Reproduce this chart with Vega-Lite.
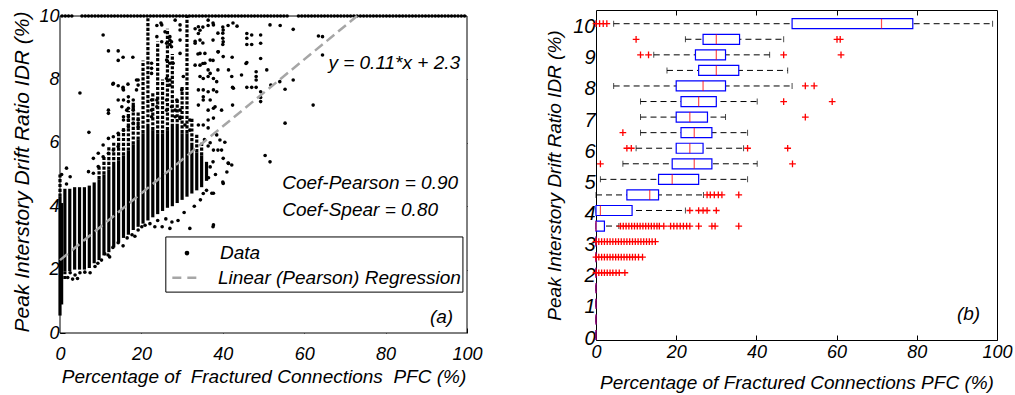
{
  "$schema": "https://vega.github.io/schema/vega-lite/v6.json",
  "background": "white",
  "padding": {"left": 11, "top": 7, "right": 5, "bottom": 5},
  "spacing": 129,
  "bounds": "flush",
  "config": {
    "font": "Liberation Sans",
    "view": {"stroke": "black", "strokeWidth": 1},
    "axis": {"grid": false, "domain": false, "labelFont": "Liberation Sans", "labelFontStyle": "italic", "labelColor": "black", "titleFont": "Liberation Sans", "titleFontStyle": "italic", "titleFontWeight": "normal", "titleColor": "black", "tickColor": "black", "labelOverlap": false, "labelFlush": false},
    "text": {"font": "Liberation Sans", "fontStyle": "italic", "color": "black"}
  },
  "datasets": {
    "cols": [
      {"x":0,"lo":0.55,"hi":4.3},{"x":0.4,"lo":0.9,"hi":4.1},{"x":1.2,"lo":1.95,"hi":4.55},{"x":2.4,"lo":1.95,"hi":4.55},{"x":3.6,"lo":2.0,"hi":4.6},{"x":4.8,"lo":2.0,"hi":4.6},{"x":6.0,"lo":2.0,"hi":4.6},{"x":7.2,"lo":2.05,"hi":4.65},{"x":8.4,"lo":2.2,"hi":4.75},{"x":9.6,"lo":2.3,"hi":4.85},{"x":10.8,"lo":2.45,"hi":5.0},{"x":12.0,"lo":2.55,"hi":5.15},{"x":13.2,"lo":2.7,"hi":5.3},{"x":14.4,"lo":2.85,"hi":5.45},{"x":15.6,"lo":3.0,"hi":5.6},{"x":16.8,"lo":3.1,"hi":5.75},{"x":18.0,"lo":3.25,"hi":5.95},{"x":19.2,"lo":3.35,"hi":6.1},{"x":20.4,"lo":3.45,"hi":6.3},{"x":21.6,"lo":3.55,"hi":6.5},{"x":22.8,"lo":3.65,"hi":6.4},{"x":24.0,"lo":3.75,"hi":6.3},{"x":25.2,"lo":3.85,"hi":6.3},{"x":26.4,"lo":3.95,"hi":6.4},{"x":27.6,"lo":4.0,"hi":6.5},{"x":28.8,"lo":4.1,"hi":6.5},{"x":30.0,"lo":4.2,"hi":6.3},{"x":31.2,"lo":4.3,"hi":6.3},{"x":32.4,"lo":4.4,"hi":5.9},{"x":33.6,"lo":4.5,"hi":5.7},{"x":34.8,"lo":4.6,"hi":5.6},{"x":36.0,"lo":4.8,"hi":5.4}
    ],
    "dots": [
      {"x":0,"lo":4.3,"hi":5.0},{"x":1.2,"lo":1.7,"hi":1.95},{"x":9.6,"lo":4.85,"hi":5.3},{"x":10.8,"lo":5.0,"hi":5.6},{"x":12.0,"lo":5.15,"hi":5.9},{"x":13.2,"lo":5.3,"hi":6.0},{"x":14.4,"lo":5.45,"hi":6.3},{"x":15.6,"lo":5.6,"hi":6.5},{"x":16.8,"lo":5.75,"hi":7.0},{"x":18.0,"lo":5.95,"hi":7.3},{"x":19.2,"lo":6.1,"hi":7.0},{"x":20.4,"lo":6.3,"hi":8.6},{"x":21.6,"lo":6.5,"hi":10},{"x":22.8,"lo":6.4,"hi":7.6},{"x":24.0,"lo":6.3,"hi":9.2},{"x":25.2,"lo":6.3,"hi":8.0},{"x":26.4,"lo":6.4,"hi":9.6},{"x":27.6,"lo":6.5,"hi":8.8},{"x":28.8,"lo":6.5,"hi":7.4},{"x":30.0,"lo":6.3,"hi":7.8},{"x":31.2,"lo":6.3,"hi":10},{"x":32.4,"lo":5.9,"hi":6.8},{"x":33.6,"lo":5.7,"hi":6.3},{"x":34.8,"lo":5.6,"hi":6.0}
    ],
    "pts": [
      {"x":1.6,"y":5.2},{"x":2.5,"y":4.93},{"x":1.6,"y":4.7},{"x":0.4,"y":5.0},{"x":4.9,"y":7.57},{"x":7.1,"y":6.33},{"x":7,"y":5.09},{"x":8.2,"y":5.04},{"x":8.2,"y":5.51},{"x":9.4,"y":5.67},{"x":9.4,"y":5.25},{"x":10.6,"y":5.56},{"x":10.6,"y":5.93},{"x":11.9,"y":5.67},{"x":11.9,"y":6.14},{"x":11.9,"y":6.93},{"x":13.1,"y":5.77},{"x":13.1,"y":6.19},{"x":14.3,"y":5.88},{"x":14.3,"y":6.3},{"x":15.6,"y":6.4},{"x":15.6,"y":6.72},{"x":16.8,"y":6.51},{"x":16.8,"y":6.82},{"x":18,"y":7.03},
      {"x":10.6,"y":9.4},{"x":11.9,"y":8.9},{"x":14.3,"y":8.9},{"x":14.3,"y":8.6},{"x":15.5,"y":8.7},{"x":17.9,"y":8.7},{"x":13,"y":7.85},{"x":14.3,"y":7.8},{"x":15.5,"y":7.75},{"x":15.5,"y":7.7},{"x":16.7,"y":7.85},{"x":19.2,"y":7.98},{"x":19.2,"y":7.82},{"x":13.1,"y":7.88},{"x":18.8,"y":7.98},{"x":11.9,"y":7.03},{"x":14.3,"y":7.35},{"x":16.8,"y":7.09},{"x":16.8,"y":7.45},{"x":15.6,"y":7.35},{"x":16.8,"y":7.3},{"x":18,"y":7.35},{"x":15.2,"y":7.14},{"x":16.4,"y":7.03},{"x":18,"y":7.14},{"x":15.6,"y":6.82},{"x":16.8,"y":6.72},{"x":18,"y":6.62},{"x":19.2,"y":6.72},{"x":19.2,"y":6.51},{"x":18.8,"y":7.67},{"x":15.6,"y":7.67},
      {"x":22.5,"y":8.51},{"x":22.5,"y":8.35},{"x":22.5,"y":8.19},{"x":23.8,"y":9.35},{"x":25,"y":9.72},{"x":22.5,"y":7.35},{"x":22.5,"y":7.03},{"x":22.5,"y":6.82},{"x":23.8,"y":7.35},{"x":23.8,"y":7.14},{"x":23.8,"y":9.7},{"x":24.8,"y":9.78},{"x":25.8,"y":9.5},{"x":27,"y":9.35},{"x":27,"y":9.24},{"x":27,"y":9.1},{"x":25,"y":9.19},{"x":26.2,"y":9.14},{"x":27.4,"y":9.19},{"x":27.4,"y":9.03},{"x":26.2,"y":8.61},{"x":27,"y":8.51},{"x":27.8,"y":8.51},{"x":26.2,"y":8.03},{"x":27,"y":7.98},{"x":27,"y":7.82},{"x":26.2,"y":7.35},{"x":27.4,"y":7.14},{"x":26.2,"y":7.03},{"x":28.3,"y":6.82},{"x":29.5,"y":7.03},{"x":29.5,"y":6.77},{"x":29.5,"y":9.72},{"x":29.5,"y":9.56},{"x":29.5,"y":9.24},{"x":29.5,"y":8.82},{"x":28.3,"y":9.87},{"x":30.3,"y":8.09},{"x":29.9,"y":7.67},{"x":28.7,"y":7.35},{"x":28.3,"y":7.03},{"x":29.5,"y":6.81},{"x":30.7,"y":6.56},{"x":31.9,"y":6.72},
      {"x":34,"y":9.66},{"x":34,"y":9.45},{"x":34.4,"y":9.24},{"x":34.4,"y":8.82},{"x":33.2,"y":9.14},{"x":35.6,"y":8.82},{"x":34.4,"y":8.45},{"x":33.2,"y":8.45},{"x":35.6,"y":8.51},{"x":34.4,"y":8.09},{"x":36.9,"y":8.61},{"x":36.4,"y":8.09},{"x":37.7,"y":7.67},{"x":36.4,"y":9.87},{"x":37.7,"y":9.72},{"x":38.9,"y":8.87},{"x":40.1,"y":9.56},{"x":40.1,"y":9.19},{"x":40.1,"y":8.72},{"x":38.5,"y":7.93},{"x":38.5,"y":7.61},{"x":36.9,"y":7.35},{"x":38.1,"y":7.14},{"x":39.7,"y":7.03},{"x":41.4,"y":8.3},{"x":42.2,"y":8.09},{"x":42.6,"y":7.72},{"x":33.2,"y":9.6},{"x":33.2,"y":9.2},{"x":34.4,"y":9.55},{"x":35.1,"y":9.65},{"x":36.4,"y":9.7},{"x":37.6,"y":9.78},{"x":40,"y":9.65},{"x":41.3,"y":9.7},{"x":42.5,"y":9.78},{"x":43.5,"y":9.68},{"x":37.6,"y":9.24},{"x":38.8,"y":9.46},{"x":40,"y":9.46},{"x":40,"y":9.3},{"x":40,"y":9.1},{"x":38.8,"y":8.87},{"x":42.3,"y":8.7},{"x":37.6,"y":8.6},{"x":38.8,"y":8.3},{"x":36.4,"y":8.3},{"x":35.1,"y":8.5},{"x":33.9,"y":8.8},{"x":35.1,"y":9.15},{"x":37.7,"y":8.03},{"x":36.9,"y":8.19},{"x":35.2,"y":8.03},{"x":34,"y":7.67},{"x":35.2,"y":7.67},{"x":35.2,"y":7.45},{"x":36.4,"y":7.61},{"x":37.7,"y":7.09},{"x":36.4,"y":7.03},{"x":34,"y":7.19},{"x":35.2,"y":7.35},{"x":37.7,"y":6.78},{"x":36.4,"y":6.72},{"x":35.2,"y":6.56},{"x":36.4,"y":6.47},{"x":34,"y":6.56},{"x":31.9,"y":6.4},{"x":42.4,"y":7.75},{"x":42.4,"y":7.19},{"x":44.6,"y":8.14},
      {"x":39.3,"y":6.09},{"x":40.5,"y":6.02},{"x":39.7,"y":5.77},{"x":40.1,"y":5.51},{"x":42.2,"y":5.3},{"x":41.4,"y":5.35},{"x":40.1,"y":4.72},{"x":37.7,"y":4.41},{"x":37.7,"y":3.41},{"x":37.7,"y":5.77},{"x":38.5,"y":6.25},{"x":36.9,"y":5.24},{"x":37.6,"y":5.4},{"x":38.8,"y":5.77},{"x":40,"y":4.76},{"x":41.3,"y":5.36},{"x":41,"y":5.08},{"x":37.3,"y":4.41},{"x":36.4,"y":5.9},{"x":36.9,"y":6.0},{"x":35.5,"y":6.1},{"x":38.2,"y":5.0},{"x":36.5,"y":4.9},{"x":35.2,"y":4.4},
      {"x":45.9,"y":9.45},{"x":45.9,"y":9.3},{"x":45.9,"y":9.1},{"x":49.3,"y":9.4},{"x":49.3,"y":9.14},{"x":45.9,"y":8.53},{"x":49.3,"y":8.66},{"x":50.8,"y":8.3},{"x":48.2,"y":8.24},{"x":48.2,"y":8.09},{"x":48.2,"y":7.98},{"x":51.8,"y":7.82},{"x":54,"y":7.93},{"x":55.3,"y":7.69},{"x":45.9,"y":7.75},{"x":47.1,"y":7.75},{"x":48.2,"y":7.75},{"x":49.3,"y":7.61},{"x":49.3,"y":7.43},{"x":49.3,"y":7.3},{"x":55.3,"y":6.62},{"x":57.3,"y":7.98},{"x":62.2,"y":7.19},{"x":63.5,"y":9.37},{"x":64.5,"y":9.35},{"x":64.5,"y":8.77},{"x":57.3,"y":9.58},{"x":51.6,"y":9.72},{"x":54.1,"y":9.7},{"x":47.1,"y":9.4},{"x":47.1,"y":9.1},{"x":45.7,"y":8.5},{"x":50.4,"y":5.6},{"x":51.6,"y":5.4},
      {"x":2.5,"y":1.9},{"x":3.7,"y":1.83},{"x":4.9,"y":1.9},{"x":6.1,"y":1.92},{"x":7.4,"y":1.9},{"x":1.9,"y":1.75},{"x":3.1,"y":1.7},{"x":4.3,"y":1.72},{"x":9.3,"y":2.2},{"x":11,"y":2.5},{"x":11.8,"y":2.46},{"x":13,"y":2.7},{"x":14.3,"y":2.85},{"x":16.5,"y":3.0},{"x":17.7,"y":3.1},{"x":19.2,"y":3.25},{"x":20.1,"y":3.35},{"x":20.9,"y":3.4},{"x":22.1,"y":3.45},{"x":23.3,"y":3.35},{"x":25.1,"y":3.35},{"x":27,"y":3.3},{"x":27.5,"y":3.5},{"x":29,"y":3.55},{"x":31.9,"y":3.3},{"x":37.6,"y":3.35},{"x":8.6,"y":2.1},{"x":10.2,"y":2.3},{"x":12.2,"y":2.4},{"x":15.5,"y":2.75},{"x":18.4,"y":3.05},{"x":24,"y":3.55},{"x":26,"y":3.6},{"x":30.5,"y":3.8},{"x":33,"y":4.0},{"x":34.5,"y":4.2},{"x":36,"y":4.5},
      {"x":0.5,"y":10},{"x":1.3,"y":10},{"x":2.1,"y":10},{"x":2.9,"y":10},{"x":5.4,"y":10},{"x":6.2,"y":10},{"x":7.0,"y":10},{"x":7.8,"y":10},{"x":8.6,"y":10},{"x":9.4,"y":10},{"x":10.2,"y":10},{"x":11.0,"y":10},{"x":11.8,"y":10},{"x":12.6,"y":10},{"x":13.4,"y":10},{"x":14.2,"y":10},{"x":15.0,"y":10},{"x":15.8,"y":10},{"x":16.6,"y":10},{"x":17.4,"y":10},{"x":18.2,"y":10},{"x":19.0,"y":10},{"x":19.8,"y":10},{"x":20.6,"y":10},{"x":21.4,"y":10},{"x":22.2,"y":10},{"x":23.0,"y":10},{"x":23.8,"y":10},{"x":24.6,"y":10},{"x":25.4,"y":10},{"x":26.2,"y":10},{"x":27.0,"y":10},{"x":27.8,"y":10},{"x":28.6,"y":10},{"x":29.4,"y":10},{"x":30.2,"y":10},{"x":31.0,"y":10},{"x":31.8,"y":10},{"x":32.6,"y":10},{"x":33.4,"y":10},{"x":34.2,"y":10},{"x":35.0,"y":10},{"x":35.8,"y":10},{"x":36.6,"y":10},{"x":37.4,"y":10},{"x":38.2,"y":10},{"x":39.0,"y":10},{"x":39.8,"y":10},{"x":40.6,"y":10},{"x":41.4,"y":10},{"x":42.2,"y":10},{"x":43.0,"y":10},{"x":43.8,"y":10},{"x":44.6,"y":10},{"x":45.4,"y":10},{"x":46.2,"y":10},{"x":47.0,"y":10},{"x":47.8,"y":10},{"x":48.6,"y":10},{"x":49.4,"y":10},{"x":50.2,"y":10},{"x":51.0,"y":10},{"x":51.8,"y":10},{"x":52.6,"y":10},{"x":53.4,"y":10},{"x":54.2,"y":10},{"x":55.0,"y":10},{"x":55.8,"y":10},{"x":58.6,"y":10},{"x":59.4,"y":10},{"x":60.2,"y":10},{"x":61.0,"y":10},{"x":61.8,"y":10},{"x":62.6,"y":10},{"x":63.4,"y":10},{"x":64.2,"y":10},{"x":65.0,"y":10},{"x":65.8,"y":10},{"x":66.6,"y":10},{"x":67.4,"y":10},{"x":68.2,"y":10},{"x":69.0,"y":10},{"x":69.8,"y":10},{"x":70.6,"y":10},{"x":71.4,"y":10},{"x":72.2,"y":10},{"x":73.0,"y":10},{"x":73.8,"y":10},{"x":74.6,"y":10},{"x":75.4,"y":10},{"x":76.2,"y":10},{"x":77.0,"y":10},{"x":77.8,"y":10},{"x":78.6,"y":10},{"x":79.4,"y":10},{"x":80.2,"y":10},{"x":81.0,"y":10},{"x":81.8,"y":10},{"x":82.6,"y":10},{"x":83.4,"y":10},{"x":84.2,"y":10},{"x":85.0,"y":10},{"x":85.8,"y":10},{"x":86.6,"y":10},{"x":87.4,"y":10},{"x":88.2,"y":10},{"x":89.0,"y":10},{"x":89.8,"y":10},{"x":90.6,"y":10},{"x":91.4,"y":10},{"x":92.2,"y":10},{"x":93.0,"y":10},{"x":93.8,"y":10},{"x":94.6,"y":10},{"x":95.4,"y":10},{"x":96.2,"y":10},{"x":97.0,"y":10},{"x":97.8,"y":10},{"x":98.6,"y":10},{"x":99.4,"y":10}
    ],
    "reg": [{"x":0,"y":2.3},{"x":73,"y":10}],
    "boxes": [
      {"i":10,"lo":4.4,"q1":48.9,"md":71.2,"q3":79.0,"hi":98.9},
      {"i":9.5,"lo":22.3,"q1":26.7,"md":30.0,"q3":35.8,"hi":46.8},
      {"i":9,"lo":14.4,"q1":24.8,"md":30.0,"q3":32.3,"hi":43.3},
      {"i":8.5,"lo":17.7,"q1":25.6,"md":30.0,"q3":35.6,"hi":47.8},
      {"i":8,"lo":4.4,"q1":20.0,"md":26.7,"q3":32.3,"hi":48.9},
      {"i":7.5,"lo":11.1,"q1":21.2,"md":25.6,"q3":30.0,"hi":40.2},
      {"i":7,"lo":11.1,"q1":20.0,"md":23.4,"q3":27.8,"hi":32.3},
      {"i":6.5,"lo":11.1,"q1":21.2,"md":24.5,"q3":28.9,"hi":37.8},
      {"i":6,"lo":10.0,"q1":20.0,"md":23.4,"q3":26.7,"hi":36.8},
      {"i":5.5,"lo":6.7,"q1":19.0,"md":24.5,"q3":28.9,"hi":40.2},
      {"i":5,"lo":1.1,"q1":15.6,"md":19.0,"q3":25.6,"hi":37.8},
      {"i":4.5,"lo":0,"q1":7.7,"md":13.4,"q3":15.6,"hi":26.8},
      {"i":4,"lo":0,"q1":0,"md":1.1,"q3":9.0,"hi":22.3},
      {"i":3.5,"lo":0,"q1":0,"md":0,"q3":2.1,"hi":5.7},
      {"i":3,"lo":0,"q1":0,"md":0,"q3":0,"hi":0},
      {"i":2.5,"lo":0,"q1":0,"md":0,"q3":0,"hi":0},
      {"i":2,"lo":0,"q1":0,"md":0,"q3":0,"hi":0},
      {"i":1.5,"lo":0,"q1":0,"md":0,"q3":0,"hi":0},
      {"i":1,"lo":0,"q1":0,"md":0,"q3":0,"hi":0},
      {"i":0.5,"lo":0,"q1":0,"md":0,"q3":0,"hi":0},
      {"i":0,"lo":0,"q1":0,"md":0,"q3":0,"hi":0}
    ],
    "outl": [
      {"i":10,"v":0},{"i":10,"v":0.9},{"i":10,"v":1.8},{"i":10,"v":2.7},
      {"i":9.5,"v":10.0},{"i":9.5,"v":60.1},{"i":9.5,"v":60.9},
      {"i":9,"v":11.1},{"i":9,"v":13.1},{"i":9,"v":46.8},{"i":9,"v":61.1},
      {"i":8,"v":52.2},{"i":8,"v":54.4},
      {"i":7.5,"v":46.8},{"i":7.5,"v":58.9},
      {"i":7,"v":52.2},
      {"i":6.5,"v":6.7},
      {"i":6,"v":7.7},{"i":6,"v":8.8},{"i":6,"v":37.8},{"i":6,"v":47.8},
      {"i":5.5,"v":1.1},{"i":5.5,"v":49.0},
      {"i":4.5,"v":27.7},{"i":4.5,"v":28.5},{"i":4.5,"v":29.5},{"i":4.5,"v":30.5},{"i":4.5,"v":31.4},{"i":4.5,"v":35.6},
      {"i":4,"v":23.4},{"i":4,"v":25.6},{"i":4,"v":26.7},{"i":4,"v":27.7},{"i":4,"v":30.0},
      {"i":3.5,"v":6.1},{"i":3.5,"v":6.8},{"i":3.5,"v":7.5},{"i":3.5,"v":8.2},{"i":3.5,"v":8.9},{"i":3.5,"v":9.6},{"i":3.5,"v":10.3},{"i":3.5,"v":11.0},{"i":3.5,"v":11.7},{"i":3.5,"v":12.4},{"i":3.5,"v":13.1},{"i":3.5,"v":13.8},{"i":3.5,"v":14.5},{"i":3.5,"v":15.2},{"i":3.5,"v":15.8},{"i":3.5,"v":16.9},{"i":3.5,"v":18.6},{"i":3.5,"v":19.4},{"i":3.5,"v":20.2},{"i":3.5,"v":21.0},{"i":3.5,"v":21.8},{"i":3.5,"v":22.6},{"i":3.5,"v":23.4},{"i":3.5,"v":25.6},{"i":3.5,"v":28.9},{"i":3.5,"v":29.7},{"i":3.5,"v":35.6},
      {"i":3,"v":0},{"i":3,"v":0.7},{"i":3,"v":1.4},{"i":3,"v":2.1},{"i":3,"v":2.8},{"i":3,"v":3.5},{"i":3,"v":4.2},{"i":3,"v":4.9},{"i":3,"v":5.6},{"i":3,"v":6.3},{"i":3,"v":7.0},{"i":3,"v":7.7},{"i":3,"v":8.4},{"i":3,"v":9.1},{"i":3,"v":9.8},{"i":3,"v":10.5},{"i":3,"v":11.2},{"i":3,"v":11.9},{"i":3,"v":12.6},{"i":3,"v":13.3},{"i":3,"v":14.0},{"i":3,"v":14.8},
      {"i":2.5,"v":0},{"i":2.5,"v":0.7},{"i":2.5,"v":1.4},{"i":2.5,"v":2.1},{"i":2.5,"v":2.8},{"i":2.5,"v":3.5},{"i":2.5,"v":4.2},{"i":2.5,"v":4.9},{"i":2.5,"v":5.6},{"i":2.5,"v":6.3},{"i":2.5,"v":7.0},{"i":2.5,"v":7.7},{"i":2.5,"v":8.4},{"i":2.5,"v":9.1},{"i":2.5,"v":9.8},{"i":2.5,"v":10.6},{"i":2.5,"v":11.6},
      {"i":2,"v":0},{"i":2,"v":0.7},{"i":2,"v":1.4},{"i":2,"v":2.1},{"i":2,"v":2.8},{"i":2,"v":3.5},{"i":2,"v":4.2},{"i":2,"v":5.0},{"i":2,"v":5.8},{"i":2,"v":7.2}
    ]
  },
  "hconcat": [
    {
      "width": 407,
      "height": 323,
      "view": {"stroke": null},
      "resolve": {"axis": {"x": "independent", "y": "independent"}},
      "layer": [
        {
          "data": {"values": [{}]},
          "mark": {"type": "rect", "fill": "white", "stroke": "black", "strokeWidth": 1},
          "encoding": {
            "x": {"datum": 0, "type": "quantitative", "scale": {"domain": [0, 100], "nice": false},
                  "axis": {"orient": "bottom", "values": [0, 20, 40, 60, 80, 100], "tickSize": -5, "labelPadding": 17, "labelFontSize": 18, "title": "Percentage of \u00a0Fractured Connections \u00a0PFC (%)", "titleFontSize": 19, "titlePadding": 4}},
            "x2": {"datum": 100},
            "y": {"datum": 0, "type": "quantitative", "scale": {"domain": [0, 10.19], "nice": false},
                  "axis": {"orient": "left", "values": [0, 2, 4, 6, 8, 10], "tickSize": -5, "labelPadding": 6, "labelFontSize": 18, "title": "Peak Interstory Drift Ratio IDR (%)", "titleFontSize": 21, "titlePadding": 6}},
            "y2": {"datum": 10}
          }
        },
        {
          "data": {"name": "cols"},
          "mark": {"type": "rule", "strokeWidth": 3.2, "color": "black"},
          "encoding": {
            "x": {"field": "x", "type": "quantitative", "scale": {"domain": [0, 100], "nice": false}, "axis": null},
            "y": {"field": "lo", "type": "quantitative", "scale": {"domain": [0, 10.19], "nice": false}, "axis": null},
            "y2": {"field": "hi"}
          }
        },
        {
          "data": {"name": "dots"},
          "mark": {"type": "rule", "strokeWidth": 3.2, "color": "black", "strokeDash": [3.2, 1.6]},
          "encoding": {
            "x": {"field": "x", "type": "quantitative", "scale": {"domain": [0, 100], "nice": false}, "axis": null},
            "y": {"field": "lo", "type": "quantitative", "scale": {"domain": [0, 10.19], "nice": false}, "axis": null},
            "y2": {"field": "hi"}
          }
        },
        {
          "data": {"name": "pts"},
          "mark": {"type": "circle", "size": 13, "color": "black", "opacity": 1},
          "encoding": {
            "x": {"field": "x", "type": "quantitative", "scale": {"domain": [0, 100], "nice": false}, "axis": null},
            "y": {"field": "y", "type": "quantitative", "scale": {"domain": [0, 10.19], "nice": false}, "axis": null}
          }
        },
        {
          "data": {"name": "reg"},
          "mark": {"type": "line", "color": "#a6a6a6", "strokeWidth": 2.5, "strokeDash": [10, 5]},
          "encoding": {
            "x": {"field": "x", "type": "quantitative", "scale": {"domain": [0, 100], "nice": false}, "axis": null},
            "y": {"field": "y", "type": "quantitative", "scale": {"domain": [0, 10.19], "nice": false},
                  "axis": {"orient": "right", "values": [2, 4, 6, 8], "tickSize": -5, "labels": false, "title": null}}
          }
        },
        {
          "data": {"values": [{}]},
          "mark": {"type": "rect", "fill": "white", "stroke": "black", "strokeWidth": 1},
          "encoding": {
            "x": {"datum": 26.0, "type": "quantitative", "scale": {"domain": [0, 100], "nice": false}, "axis": null},
            "x2": {"datum": 99.0},
            "y": {"datum": 3.03, "type": "quantitative", "scale": {"domain": [0, 10.19], "nice": false}, "axis": null},
            "y2": {"datum": 1.29}
          }
        },
        {
          "data": {"values": [{}]},
          "mark": {"type": "circle", "size": 22, "color": "black", "opacity": 1},
          "encoding": {
            "x": {"datum": 31.2, "type": "quantitative", "scale": {"domain": [0, 100], "nice": false}, "axis": null},
            "y": {"datum": 2.52, "type": "quantitative", "scale": {"domain": [0, 10.19], "nice": false}, "axis": null}
          }
        },
        {
          "data": {"values": [{}]},
          "mark": {"type": "rule", "color": "#a6a6a6", "strokeWidth": 2.5, "strokeDash": [9, 6]},
          "encoding": {
            "x": {"datum": 27.6, "type": "quantitative", "scale": {"domain": [0, 100], "nice": false}, "axis": null},
            "x2": {"datum": 34.5},
            "y": {"datum": 1.74, "type": "quantitative", "scale": {"domain": [0, 10.19], "nice": false}, "axis": null}
          }
        },
        {
          "data": {"values": [{}]},
          "mark": {"type": "text", "text": "Data", "align": "left", "baseline": "middle", "fontSize": 19},
          "encoding": {
            "x": {"datum": 39.3, "type": "quantitative", "scale": {"domain": [0, 100], "nice": false}, "axis": null},
            "y": {"datum": 2.52, "type": "quantitative", "scale": {"domain": [0, 10.19], "nice": false}, "axis": null}
          }
        },
        {
          "data": {"values": [{}]},
          "mark": {"type": "text", "text": "Linear (Pearson) Regression", "align": "left", "baseline": "middle", "fontSize": 19},
          "encoding": {
            "x": {"datum": 38.8, "type": "quantitative", "scale": {"domain": [0, 100], "nice": false}, "axis": null},
            "y": {"datum": 1.74, "type": "quantitative", "scale": {"domain": [0, 10.19], "nice": false}, "axis": null}
          }
        },
        {
          "data": {"values": [{}]},
          "mark": {"type": "text", "text": "y = 0.11*x + 2.3", "align": "right", "baseline": "middle", "fontSize": 19},
          "encoding": {
            "x": {"datum": 98.3, "type": "quantitative", "scale": {"domain": [0, 100], "nice": false}, "axis": null},
            "y": {"datum": 8.52, "type": "quantitative", "scale": {"domain": [0, 10.19], "nice": false}, "axis": null}
          }
        },
        {
          "data": {"values": [{}]},
          "mark": {"type": "text", "text": "Coef-Pearson = 0.90", "align": "left", "baseline": "middle", "fontSize": 19},
          "encoding": {
            "x": {"datum": 54.6, "type": "quantitative", "scale": {"domain": [0, 100], "nice": false}, "axis": null},
            "y": {"datum": 4.73, "type": "quantitative", "scale": {"domain": [0, 10.19], "nice": false}, "axis": null}
          }
        },
        {
          "data": {"values": [{}]},
          "mark": {"type": "text", "text": "Coef-Spear = 0.80", "align": "left", "baseline": "middle", "fontSize": 19},
          "encoding": {
            "x": {"datum": 54.6, "type": "quantitative", "scale": {"domain": [0, 100], "nice": false}, "axis": null},
            "y": {"datum": 3.88, "type": "quantitative", "scale": {"domain": [0, 10.19], "nice": false}, "axis": null}
          }
        },
        {
          "data": {"values": [{}]},
          "mark": {"type": "text", "text": "(a)", "align": "right", "baseline": "middle", "fontSize": 19},
          "encoding": {
            "x": {"datum": 96.6, "type": "quantitative", "scale": {"domain": [0, 100], "nice": false}, "axis": null},
            "y": {"datum": 0.5, "type": "quantitative", "scale": {"domain": [0, 10.19], "nice": false}, "axis": null}
          }
        }
      ]
    },
    {
      "width": 401,
      "height": 330,
      "resolve": {"axis": {"x": "independent", "y": "independent"}},
      "layer": [
        {
          "data": {"name": "boxes"},
          "mark": {"type": "rule", "color": "black", "strokeWidth": 1, "strokeDash": [6, 4]},
          "encoding": {
            "x": {"field": "lo", "type": "quantitative", "scale": {"domain": [0, 100], "nice": false},
                  "axis": {"orient": "bottom", "values": [0, 20, 40, 60, 80, 100], "tickSize": -5, "labelPadding": 8, "labelFontSize": 18, "title": "Percentage of Fractured Connections PFC (%)", "titleFontSize": 19, "titlePadding": 12}},
            "x2": {"field": "hi"},
            "y": {"field": "i", "type": "quantitative", "scale": {"domain": [0, 10.28], "nice": false},
                  "axis": {"orient": "left", "values": [0, 1, 2, 3, 4, 5, 6, 7, 8, 9, 10], "ticks": false, "labelPadding": 1, "labelOffset": 3, "labelFontSize": 20, "labelOverlap": false, "title": "Peak Interstory Drift Ratio IDR (%)", "titleFontSize": 19, "titlePadding": 8}}
          }
        },
        {
          "data": {"name": "boxes"},
          "mark": {"type": "tick", "orient": "vertical", "color": "black", "size": 6, "thickness": 1},
          "encoding": {
            "x": {"field": "lo", "type": "quantitative", "scale": {"domain": [0, 100], "nice": false}, "axis": null},
            "y": {"field": "i", "type": "quantitative", "scale": {"domain": [0, 10.28], "nice": false}, "axis": null}
          }
        },
        {
          "data": {"name": "boxes"},
          "mark": {"type": "tick", "orient": "vertical", "color": "black", "size": 6, "thickness": 1},
          "encoding": {
            "x": {"field": "hi", "type": "quantitative", "scale": {"domain": [0, 100], "nice": false}, "axis": null},
            "y": {"field": "i", "type": "quantitative", "scale": {"domain": [0, 10.28], "nice": false}, "axis": null}
          }
        },
        {
          "data": {"name": "boxes"},
          "mark": {"type": "bar", "orient": "horizontal", "height": 10, "fill": "white", "stroke": "#0000ff", "strokeWidth": 1.2},
          "encoding": {
            "x": {"field": "q1", "type": "quantitative", "scale": {"domain": [0, 100], "nice": false}, "axis": null},
            "x2": {"field": "q3"},
            "y": {"field": "i", "type": "quantitative", "scale": {"domain": [0, 10.28], "nice": false}, "axis": null}
          }
        },
        {
          "data": {"name": "boxes"},
          "mark": {"type": "tick", "orient": "vertical", "color": "#ff0000", "size": 10, "thickness": 1.2},
          "encoding": {
            "x": {"field": "md", "type": "quantitative", "scale": {"domain": [0, 100], "nice": false}, "axis": null},
            "y": {"field": "i", "type": "quantitative", "scale": {"domain": [0, 10.28], "nice": false}, "axis": null}
          }
        },
        {
          "data": {"name": "outl"},
          "mark": {"type": "point", "shape": "M-1,0L1,0M0,-1L0,1", "filled": false, "stroke": "#ff0000", "strokeWidth": 1.3, "size": 45, "opacity": 1},
          "encoding": {
            "x": {"field": "v", "type": "quantitative", "scale": {"domain": [0, 100], "nice": false},
                  "axis": {"orient": "top", "values": [20, 40, 60, 80], "tickSize": -5, "labels": false, "title": null}},
            "y": {"field": "i", "type": "quantitative", "scale": {"domain": [0, 10.28], "nice": false}, "axis": null}
          }
        },
        {
          "data": {"values": [{}]},
          "mark": {"type": "text", "text": "(b)", "align": "right", "baseline": "middle", "fontSize": 19},
          "encoding": {
            "x": {"datum": 95.8, "type": "quantitative", "scale": {"domain": [0, 100], "nice": false}, "axis": null},
            "y": {"datum": 0.68, "type": "quantitative", "scale": {"domain": [0, 10.28], "nice": false}, "axis": null}
          }
        }
      ]
    }
  ]
}
